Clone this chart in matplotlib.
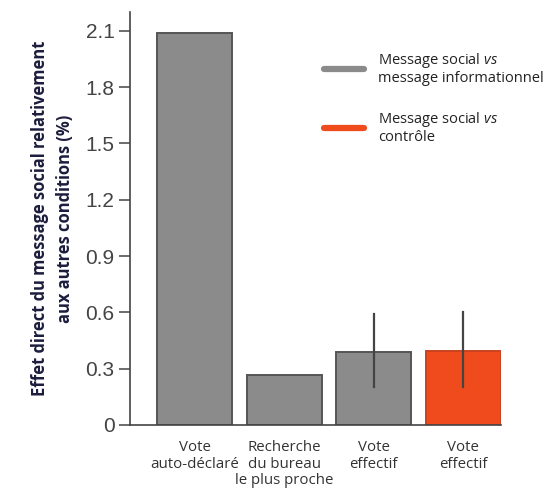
import matplotlib
matplotlib.use("Agg")
import matplotlib.pyplot as plt
from matplotlib.lines import Line2D
from matplotlib import font_manager as fm

plt.rcParams['font.family'] = ['Open Sans', 'DejaVu Sans']
plt.rcParams['mathtext.fontset'] = 'custom'
plt.rcParams['mathtext.rm'] = 'Open Sans'
plt.rcParams['mathtext.it'] = 'Open Sans:italic'

categories = ["Vote\nauto-déclaré", "Recherche\ndu bureau\nle plus proche", "Vote\neffectif", "Vote\neffectif"]
values = [2.09, 0.265, 0.39, 0.395]
err_low = [None, None, 0.20, 0.20]
err_high = [None, None, 0.59, 0.60]
yticks = [0, 0.3, 0.6, 0.9, 1.2, 1.5, 1.8, 2.1]
ytick_labels = ["0", "0.3", "0.6", "0.9", "1.2", "1.5", "1.8", "2.1"]

grey = "#8b8b8b"
orange = "#f04b1c"
colors = [grey, grey, grey, orange]
edges = ["#555555", "#555555", "#555555", "#c9431f"]

# bold face picked by file, the name lookup lands on the condensed one
bold_file = [f.fname for f in fm.fontManager.ttflist if f.fname.endswith("OpenSans-Bold.ttf")]
if bold_file:
    bold_fp = fm.FontProperties(fname=bold_file[0], size=11.9)
else:
    bold_fp = fm.FontProperties(family="DejaVu Sans", weight="bold", size=10)

fig = plt.figure(figsize=(5.56, 4.88), dpi=100)
ax = fig.add_axes([130 / 556, 1 - 425 / 488, (501 - 130) / 556, (425 - 12) / 488])

x = list(range(len(values)))
ax.bar(x, values, width=0.836, color=colors, edgecolor=edges, linewidth=1.4, zorder=2)
for i in x:
    if err_low[i] is not None:
        ax.plot([i, i], [err_low[i], err_high[i]], color="#444444", lw=1.6, zorder=3)

ax.set_xlim(-0.72, 3.42)
ax.set_ylim(0, 2.2)
ax.set_yticks(yticks)
ax.set_yticklabels(ytick_labels, fontfamily="Liberation Sans", fontsize=15, color="#444444")
ax.set_xticks(x)
ax.set_xticklabels(categories, fontsize=10.8, color="#333333", linespacing=1.12)
ax.tick_params(axis="x", length=0, pad=11)
ax.tick_params(axis="y", length=8, width=1.1, color="#444444", pad=3)
for s in ["top", "right"]:
    ax.spines[s].set_visible(False)
for s in ["left", "bottom"]:
    ax.spines[s].set_color("#444444")
    ax.spines[s].set_linewidth(1.2)

ax.set_ylabel("Effet direct du message social relativement\naux autres conditions (%)",
              fontproperties=bold_fp, color="#1c1c3c", linespacing=1.5, labelpad=8)

handles = [Line2D([], [], color=grey, lw=4.5, solid_capstyle="round"),
           Line2D([], [], color=orange, lw=4.5, solid_capstyle="round")]
labels = ["Message social $\\it{vs}$\nmessage informationnel", "Message social $\\it{vs}$\ncontrôle"]
leg = fig.legend(handles, labels, loc="upper left", bbox_to_anchor=(311 / 556, 1 - 38 / 488),
                 frameon=False, fontsize=10.5, handlelength=2.7, handletextpad=1.0,
                 labelspacing=1.7, labelcolor="#222222")
plt.setp(leg.get_texts(), linespacing=1.05)

fig.savefig("out.png", dpi=100)
